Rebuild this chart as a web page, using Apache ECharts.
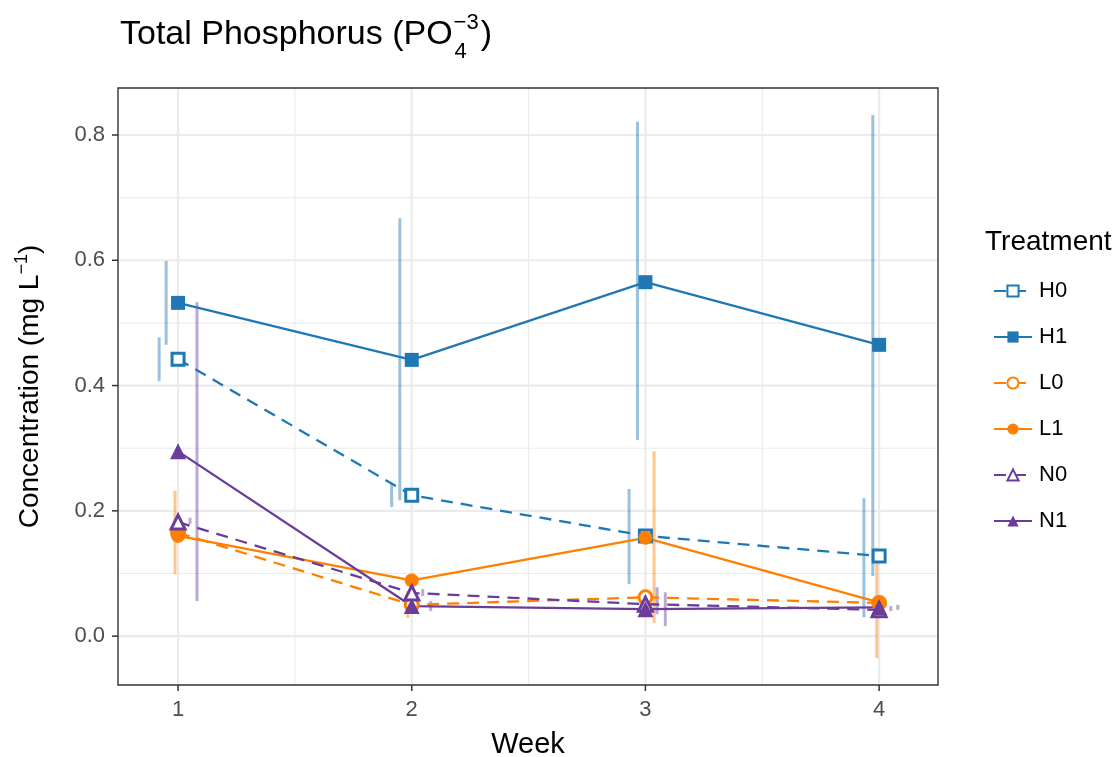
<!DOCTYPE html>
<html>
<head>
<meta charset="utf-8">
<script src="https://cdn.jsdelivr.net/npm/echarts@6/dist/echarts.min.js"></script>
<style>html,body{margin:0;padding:0;background:#fff;}#chart{width:1120px;height:757px;}</style>
</head>
<body>
<div id="chart"></div>
<script>
// ---- data ----
const weeks = [1, 2, 3, 4];
const groups = ['H0', 'H1', 'L0', 'L1', 'N0', 'N1'];
const xTicks = [1, 2, 3, 4];
const xMinor = [1.5, 2.5, 3.5];
const yTicks = [0, 0.2, 0.4, 0.6, 0.8];
const yMinor = [0.1, 0.3, 0.5, 0.7];

const meanH0 = [0.442, 0.225, 0.160, 0.128];
const meanH1 = [0.532, 0.441, 0.565, 0.465];
const meanL0 = [0.165, 0.050, 0.062, 0.053];
const meanL1 = [0.160, 0.089, 0.157, 0.054];
const meanN0 = [0.182, 0.069, 0.051, 0.042];
const meanN1 = [0.295, 0.048, 0.043, 0.046];

// error bars (jittered week position, lower, upper)
const errXH0 = [0.919, 1.914, 2.930, 3.935];
const errLoH0 = [0.407, 0.206, 0.083, 0.030];
const errHiH0 = [0.477, 0.244, 0.235, 0.220];
const errXH1 = [0.949, 1.949, 2.966, 3.973];
const errLoH1 = [0.465, 0.217, 0.313, 0.096];
const errHiH1 = [0.599, 0.667, 0.821, 0.832];
const errXL0 = [0.987, 1.983, 3.000, 4.000];
const errLoL0 = [0.099, 0.029, 0.055, 0.045];
const errHiL0 = [0.232, 0.071, 0.070, 0.062];
const errXL1 = [1.000, 2.000, 3.037, 3.990];
const errLoL1 = [0.150, 0.078, 0.021, -0.035];
const errHiL1 = [0.170, 0.100, 0.295, 0.141];
const errXN0 = [1.051, 2.047, 3.050, 4.050];
const errLoN0 = [0.179, 0.064, 0.035, 0.040];
const errHiN0 = [0.189, 0.075, 0.078, 0.048];
const errXN1 = [1.081, 2.081, 3.085, 4.080];
const errLoN1 = [0.056, 0.040, 0.016, 0.042];
const errHiN1 = [0.533, 0.056, 0.070, 0.050];

const means = {H0: meanH0, H1: meanH1, L0: meanL0, L1: meanL1, N0: meanN0, N1: meanN1};
const errs = {
  H0: [errXH0, errLoH0, errHiH0], H1: [errXH1, errLoH1, errHiH1],
  L0: [errXL0, errLoL0, errHiL0], L1: [errXL1, errLoL1, errHiL1],
  N0: [errXN0, errLoN0, errHiN0], N1: [errXN1, errLoN1, errHiN1]
};

// ---- style ----
const colors = {H0: '#1f78b4', H1: '#1f78b4', L0: '#ff7f00', L1: '#ff7f00', N0: '#6a3d9a', N1: '#6a3d9a'};
const symbols = {H0: 'rect', H1: 'rect', L0: 'circle', L1: 'circle', N0: 'triangle', N1: 'triangle'};
const symSizes = {H0: 12, H1: 14, L0: 13, L1: 14, N0: 14, N1: 16};
const hollow = {H0: true, H1: false, L0: true, L1: false, N0: true, N1: false};
const FONT = '"Liberation Sans", Arial, Helvetica, sans-serif';

const chart = echarts.init(document.getElementById('chart'), null, {renderer: 'canvas'});

const series = [];
// gridlines
series.push({
  type: 'custom', name: '_grid', silent: true, z: 0, clip: true,
  data: yTicks.map(v => [v, 0]).concat(yMinor.map(v => [v, 1]), xTicks.map(v => [v, 2]), xMinor.map(v => [v, 3])),
  renderItem: function (params, api) {
    const v = api.value(0), k = api.value(1);
    const cs = params.coordSys;
    const major = (k === 0 || k === 2);
    let shape;
    if (k < 2) {
      const y = api.coord([1, v])[1];
      shape = {x1: cs.x, y1: y, x2: cs.x + cs.width, y2: y};
    } else {
      const x = api.coord([v, 0])[0];
      shape = {x1: x, y1: cs.y, x2: x, y2: cs.y + cs.height};
    }
    return {type: 'line', shape: shape, style: {stroke: '#ebebeb', lineWidth: major ? 2.2 : 1.1}};
  },
  encode: {x: -1, y: -1}
});
// panel border and outward ticks
series.push({
  type: 'custom', name: '_frame', silent: true, z: 6, clip: false,
  data: [[0, 9]].concat(xTicks.map(v => [v, 0]), yTicks.map(v => [v, 1])),
  renderItem: function (params, api) {
    const v = api.value(0), k = api.value(1);
    const cs = params.coordSys;
    if (k === 9) {
      return {type: 'rect', shape: {x: cs.x, y: cs.y, width: cs.width, height: cs.height},
        style: {fill: null, stroke: '#333333', lineWidth: 1.4}};
    }
    let shape;
    if (k === 0) {
      const x = api.coord([v, 0])[0];
      shape = {x1: x, y1: cs.y + cs.height, x2: x, y2: cs.y + cs.height + 6};
    } else {
      const y = api.coord([1, v])[1];
      shape = {x1: cs.x - 6, y1: y, x2: cs.x, y2: y};
    }
    return {type: 'line', shape: shape, style: {stroke: '#333333', lineWidth: 1.5}};
  },
  encode: {x: -1, y: -1}
});
// error bars
groups.forEach(g => {
  const e = errs[g];
  series.push({
    type: 'custom', name: g + '_err', silent: true, z: 1, clip: true,
    data: e[0].map((x, i) => [x, e[1][i], e[2][i]]),
    encode: {x: 0, y: [1, 2]},
    renderItem: function (params, api) {
      const p1 = api.coord([api.value(0), api.value(1)]);
      const p2 = api.coord([api.value(0), api.value(2)]);
      return {type: 'line', shape: {x1: p1[0], y1: p1[1], x2: p2[0], y2: p2[1]},
        style: {stroke: colors[g], lineWidth: 3, opacity: 0.45}};
    }
  });
});
// lines + points
groups.forEach(g => {
  series.push({
    type: 'line', name: g, z: 3,
    data: weeks.map((w, i) => [w, means[g][i]]),
    symbol: symbols[g], symbolSize: symSizes[g], showAllSymbol: true,
    itemStyle: hollow[g] ? {color: '#ffffff', borderColor: colors[g], borderWidth: 3}
                         : {color: colors[g], borderWidth: 0},
    lineStyle: {color: colors[g], width: 2.3, type: hollow[g] ? [12, 8] : 'solid'},
    emphasis: {disabled: true},
    animation: false
  });
});

// title metrics
const TS = 34, SS = 22;
const ctx = document.createElement('canvas').getContext('2d');
ctx.font = TS + 'px ' + FONT;
const wMain = ctx.measureText('Total Phosphorus (PO').width;
ctx.font = SS + 'px ' + FONT;
const wSup = ctx.measureText('\u22123').width;
const tx = 120;

chart.setOption({
  animation: false,
  backgroundColor: '#ffffff',
  textStyle: {fontFamily: FONT},
  grid: {left: 118, top: 88, width: 820, height: 597, show: false, containLabel: false, outerBoundsMode: 'none'},
  xAxis: {
    type: 'value', min: 0.743, max: 4.252, position: 'bottom',
    name: 'Week', nameLocation: 'middle', nameGap: 45,
    nameTextStyle: {color: '#000', fontSize: 29, fontFamily: FONT},
    axisLine: {show: false, onZero: false},
    axisTick: {show: false},
    axisLabel: {color: '#4d4d4d', fontSize: 22, margin: 14, fontFamily: FONT, customValues: xTicks, formatter: v => String(v)},
    splitLine: {show: false}
  },
  yAxis: {
    type: 'value', min: -0.078, max: 0.875, position: 'left',
    name: 'Concentration (mg L{sup|\u22121})', nameLocation: 'middle', nameGap: 71, nameRotate: 90,
    nameTextStyle: {color: '#000', fontSize: 28, fontFamily: FONT,
      rich: {sup: {fontSize: 18, verticalAlign: 'top', lineHeight: 34, color: '#000', fontFamily: FONT}}},
    axisLine: {show: false, onZero: false},
    axisTick: {show: false},
    axisLabel: {color: '#4d4d4d', fontSize: 22, margin: 13, fontFamily: FONT, customValues: yTicks, formatter: v => v.toFixed(1)},
    splitLine: {show: false}
  },
  legend: {
    data: groups, orient: 'vertical', left: 988, top: 274,
    itemWidth: 38, itemHeight: 14, itemGap: 22,
    textStyle: {color: '#000', fontSize: 22, fontFamily: FONT, lineHeight: 24, padding: [0, 0, 0, 2]},
    selectedMode: false
  },
  graphic: [
    {type: 'text', left: 985, top: 228, style: {text: 'Treatment', font: '28px ' + FONT, fill: '#000'}},
    {type: 'text', x: tx, y: 18, style: {text: 'Total Phosphorus (PO', font: TS + 'px ' + FONT, fill: '#000'}},
    {type: 'text', x: tx + wMain + 1, y: 12, style: {text: '\u22123', font: SS + 'px ' + FONT, fill: '#000'}},
    {type: 'text', x: tx + wMain + 2, y: 41, style: {text: '4', font: SS + 'px ' + FONT, fill: '#000'}},
    {type: 'text', x: tx + wMain + wSup + 3, y: 18, style: {text: ')', font: TS + 'px ' + FONT, fill: '#000'}}
  ],
  series: series
});
</script>
</body>
</html>
